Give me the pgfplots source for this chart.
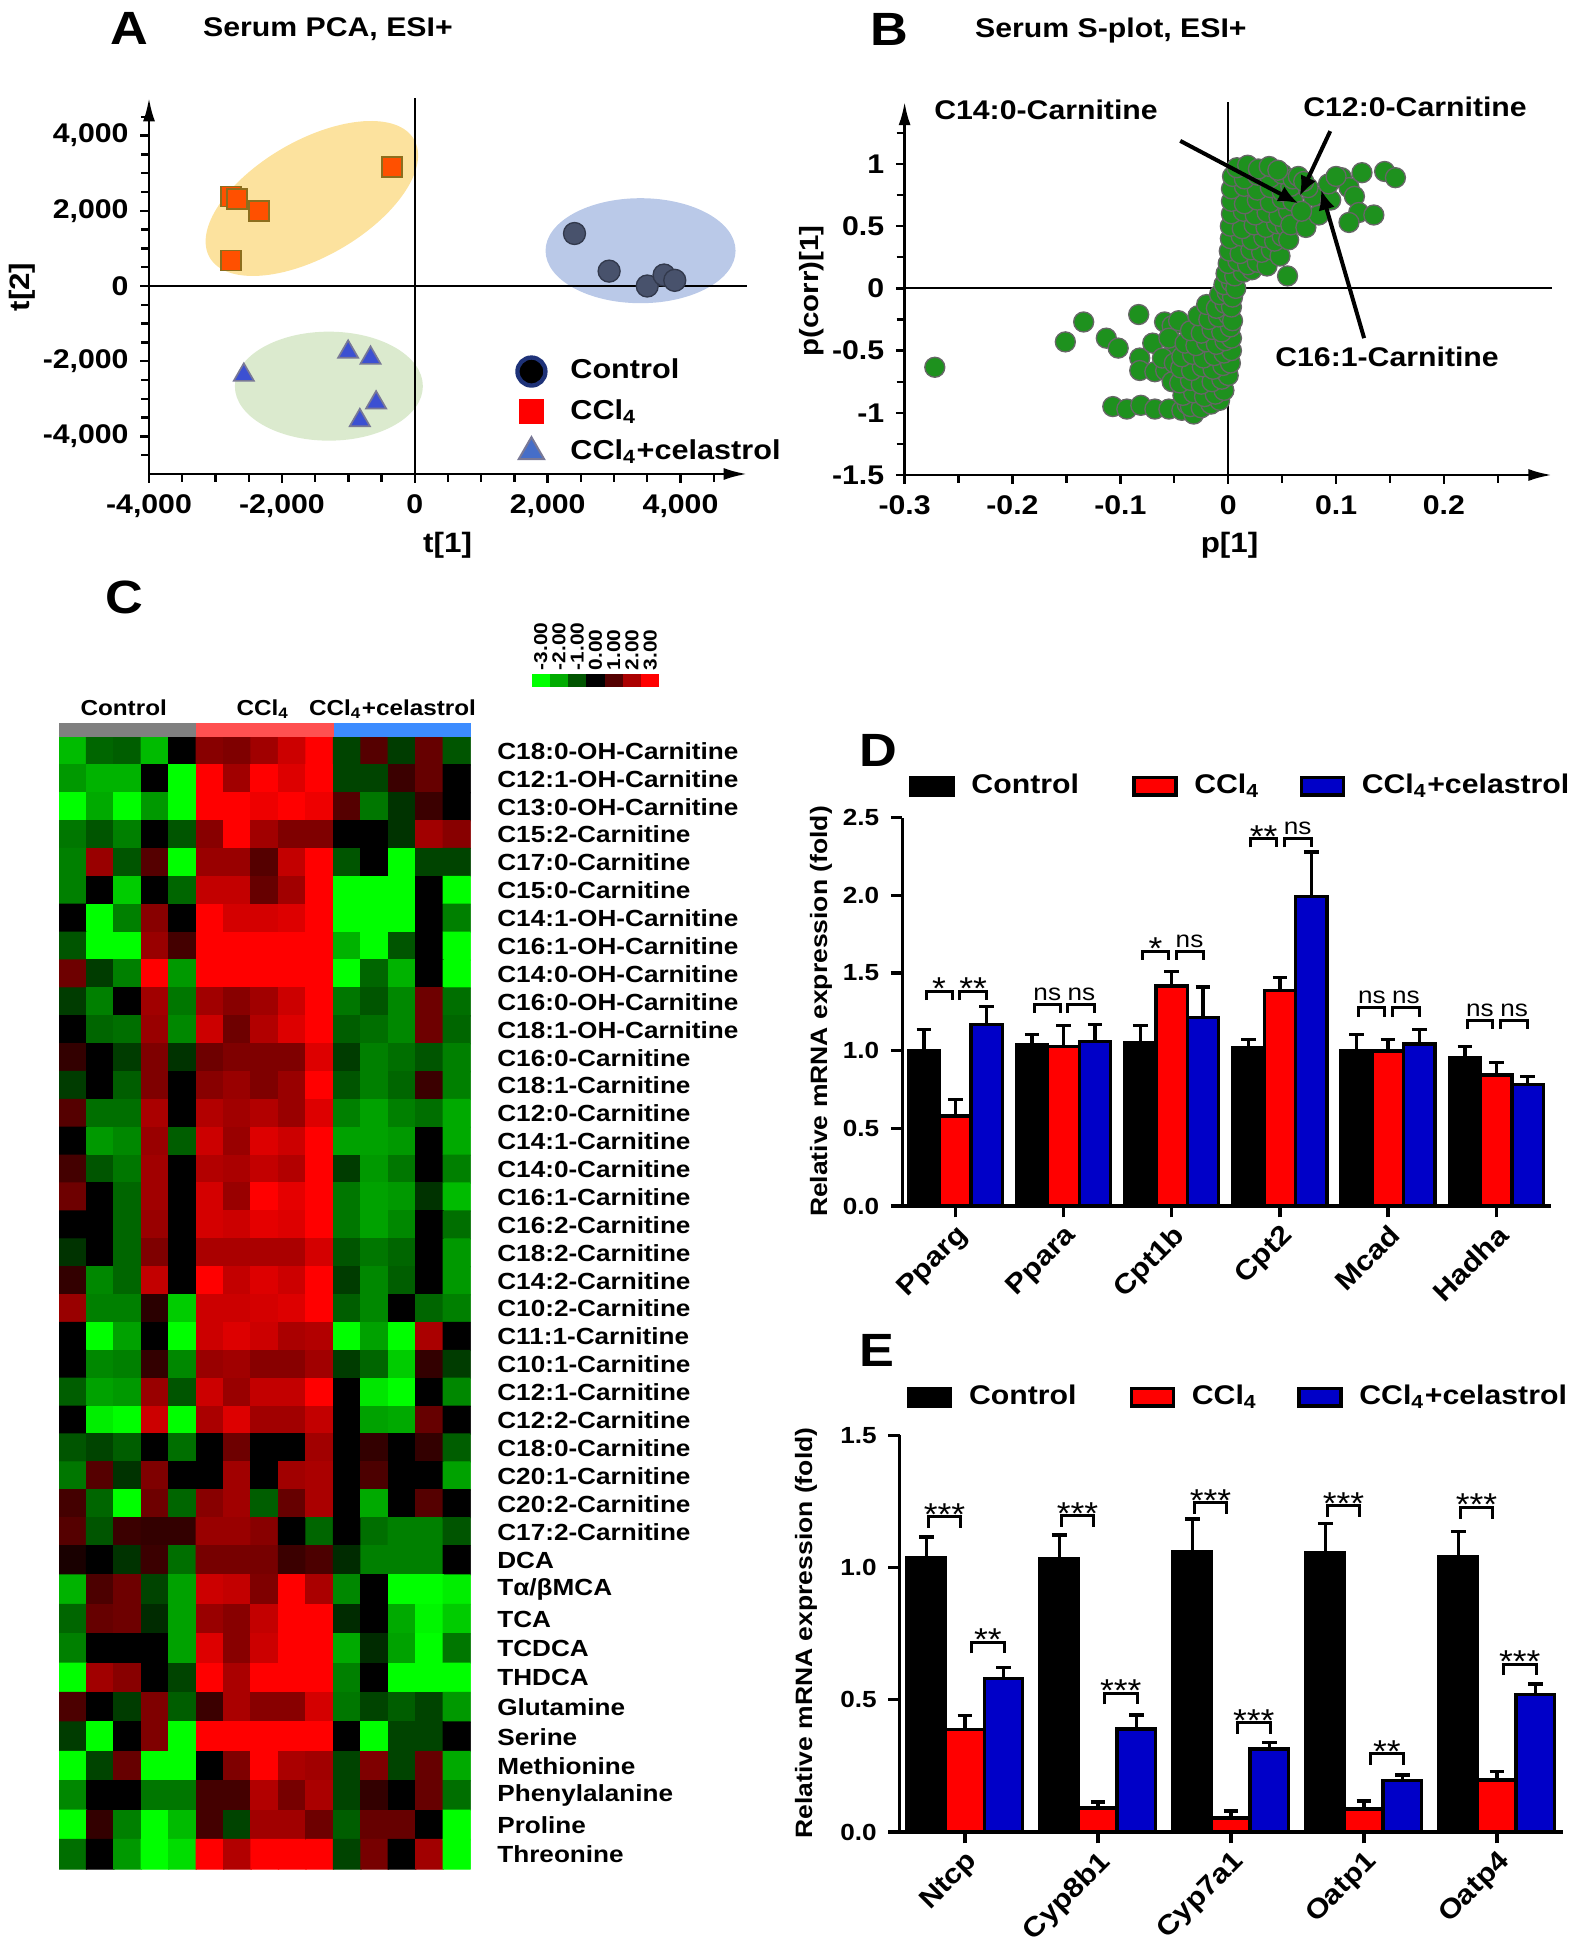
\documentclass[border=0pt]{standalone}
\usepackage{fontspec}
\setmainfont{Liberation Sans}[FakeStretch=1.12]
\usepackage{pgfplots}
\pgfplotsset{compat=1.18}
\usepackage{pgfplotstable}
\usetikzlibrary{arrows.meta}
\newcommand\fs[1]{\fontsize{#1}{#1}\selectfont\bfseries}
\newcommand\fr[1]{\fontsize{#1}{#1}\selectfont}
\definecolor{ctrlfill}{RGB}{72,82,108}
\definecolor{sqfill}{RGB}{255,80,0}
\definecolor{sqedge}{RGB}{140,110,30}
\definecolor{trifill}{RGB}{60,80,210}
\definecolor{triedge}{RGB}{120,120,150}
\definecolor{navy}{RGB}{30,50,120}
\definecolor{triL}{RGB}{70,110,200}
\definecolor{ellY}{RGB}{252,226,158}
\definecolor{ellB}{RGB}{186,201,232}
\definecolor{ellG}{RGB}{219,234,206}
\definecolor{spl}{RGB}{30,145,30}
\definecolor{barR}{RGB}{255,0,0}
\definecolor{barB}{RGB}{0,0,200}
\definecolor{grpK}{RGB}{128,128,128}
\definecolor{grpR}{RGB}{255,80,80}
\definecolor{grpB}{RGB}{60,140,255}

\pgfplotstableread[row sep=\\, header=false]{
-2.2\\-1.2\\-1.1\\-2.2\\0\\1.6\\1.5\\1.9\\2.4\\3\\-0.8\\1.0\\-0.7\\1.2\\-1.0\\
-1.8\\-2.1\\-2.1\\0\\-3\\3\\1.9\\3\\2.6\\3\\-0.8\\-0.8\\0.7\\1.2\\0\\
-3\\-2\\-3\\-1.8\\-3\\3\\3\\2.8\\3\\2.8\\1.0\\-1.4\\-0.6\\0.7\\0\\
-1.4\\-1.0\\-1.5\\0\\-1.0\\1.6\\3\\1.9\\1.5\\1.5\\0\\0\\-0.6\\1.9\\1.6\\
-1.5\\1.8\\-1.0\\1.0\\-3\\1.8\\1.8\\1.0\\2.3\\3\\-1.0\\0\\-3\\-0.8\\-0.8\\
-1.5\\0\\-2.4\\0\\-1.2\\2.3\\2.3\\1.2\\1.9\\3\\-3\\-3\\-3\\0\\-3\\
0\\-3\\-1.5\\1.6\\0\\3\\2.5\\2.5\\2.6\\3\\-3\\-3\\-3\\0\\-1.5\\
-1.0\\-3\\-3\\1.8\\0.8\\3\\3\\3\\3\\3\\-2.1\\-3\\-1.0\\0\\-3\\
1.3\\-0.7\\-1.5\\3\\-1.8\\3\\3\\3\\3\\3\\-3\\-1.2\\-2.1\\0\\-3\\
-0.7\\-1.5\\0\\1.9\\-1.4\\1.9\\1.6\\1.9\\2.4\\3\\-1.4\\-1.0\\-1.6\\1.3\\-1.3\\
0\\-1.2\\-1.3\\1.8\\-1.6\\2.4\\1.3\\2.1\\2.6\\3\\-1.1\\-1.3\\-1.6\\1.3\\-1.2\\
0.6\\0\\-0.7\\1.5\\-0.6\\1.3\\1.5\\1.5\\1.5\\2.6\\-0.7\\-1.5\\-1.3\\-1.0\\-1.5\\
-0.7\\0\\-1.1\\1.5\\0\\1.6\\1.8\\1.5\\1.8\\3\\-1.0\\-1.5\\-1.2\\0.7\\-1.5\\
1.0\\-1.3\\-1.3\\2.0\\0\\2.1\\1.9\\2.1\\1.8\\2.6\\-1.5\\-1.9\\-1.5\\-1.3\\-2.0\\
0\\-1.8\\-1.6\\1.8\\-1.1\\2.4\\1.8\\2.6\\2.4\\3\\-1.9\\-1.9\\-1.8\\0\\-2.0\\
0.8\\-1.0\\-1.4\\1.9\\0\\2.1\\2.0\\2.3\\2.1\\3\\-0.7\\-1.8\\-1.4\\0\\-1.5\\
1.3\\0\\-1.2\\1.9\\0\\2.5\\1.8\\3\\2.7\\3\\-1.4\\-1.9\\-1.8\\-0.6\\-2.2\\
0\\0\\-1.2\\1.8\\0\\2.5\\2.4\\2.7\\2.6\\3\\-1.4\\-1.9\\-1.6\\0\\-1.3\\
-0.6\\0\\-1.2\\1.5\\0\\2.0\\2.0\\2.0\\2.0\\2.5\\-1.0\\-1.4\\-1.2\\0\\-1.8\\
0.6\\-1.6\\-1.2\\2.3\\0\\3\\2.3\\2.6\\2.4\\3\\-0.7\\-1.6\\-1.1\\0\\-1.8\\
1.8\\-1.5\\-1.5\\0.5\\-2.4\\2.4\\2.4\\2.5\\2.6\\3\\-1.1\\-1.6\\0\\-1.2\\-1.5\\
0\\-3\\-1.9\\0\\-3\\2.4\\2.6\\2.4\\2.0\\2.1\\-3\\-1.9\\-3\\2.0\\0\\
0\\-1.6\\-1.5\\0.6\\-1.6\\1.8\\1.9\\1.6\\1.6\\1.9\\-0.7\\-1.2\\-2.4\\0.6\\-0.7\\
-1.1\\-1.9\\-1.8\\1.8\\-1.0\\2.4\\1.8\\2.3\\2.3\\3\\0\\-2.7\\-3\\0\\-1.6\\
0\\-2.8\\-3\\2.4\\-3\\2.0\\2.6\\1.9\\1.9\\2.3\\0\\-1.9\\-2.0\\1.2\\0\\
-1.0\\-0.8\\-1.1\\0\\-1.3\\0\\1.3\\0\\0\\1.9\\0\\0.6\\0\\0.6\\-1.1\\
-1.4\\1.0\\-0.6\\1.5\\0\\0\\1.9\\0\\1.9\\2.0\\0\\0.9\\0\\0\\-1.9\\
0.8\\-1.2\\-3\\1.3\\-1.2\\1.6\\1.9\\-1.1\\1.2\\2.0\\0\\-2.0\\0\\1.0\\0\\
1.0\\-1.0\\0.7\\0.6\\0.6\\1.8\\1.8\\1.6\\0\\-1.2\\0\\-1.3\\-1.5\\-1.5\\-1.0\\
}\heatA

\pgfplotstableread[row sep=\\, header=false]{
0.3\\0\\-0.6\\0.7\\-1.3\\1.4\\1.4\\1.4\\0.7\\0.9\\-0.5\\-1.5\\-1.5\\-1.5\\0\\
-2.1\\0.9\\1.3\\-0.8\\-1.9\\2.4\\2.3\\1.5\\3\\2.0\\-1.6\\0\\-3\\-3\\-2.8\\
-1.2\\1.2\\1.3\\-0.5\\-1.9\\1.8\\1.6\\2.3\\3\\3\\-0.5\\0\\-2.0\\-2.9\\-2.4\\
-1.5\\0\\0\\0\\-1.9\\2.6\\1.6\\2.4\\3\\3\\-2.0\\-0.5\\-1.9\\-3\\-1.4\\
-3\\1.9\\1.6\\0\\-0.8\\3\\2.0\\3\\3\\3\\-1.5\\0\\-3\\-3\\-3\\
0.9\\0\\-0.7\\1.5\\-1.1\\0.7\\2.0\\1.6\\1.6\\2.5\\-1.4\\-0.8\\-1.1\\-0.8\\-1.8\\
-0.7\\-3\\0\\1.5\\-3\\3\\3\\3\\3\\3\\0\\-3\\-0.8\\-0.8\\0\\
-3\\-0.8\\1.2\\-3\\-3\\0\\1.5\\3\\2.0\\1.9\\-0.8\\1.5\\-0.8\\1.2\\-2.0\\
-1.6\\0\\0\\-1.4\\-1.4\\0.8\\0.8\\2.1\\1.4\\2.0\\-0.8\\0.6\\0\\1.2\\-1.3\\
-3\\0.6\\-1.5\\-3\\-2.2\\0.8\\-0.8\\1.9\\1.9\\1.3\\-1.1\\1.2\\1.2\\0\\-3\\
-1.3\\0\\-1.8\\-3\\-2.6\\3\\2.1\\3\\3\\3\\-0.8\\1.4\\0\\1.9\\-3\\
}\heatB

\newcommand\brk[4]{\draw[line width=0.9pt] ([yshift=-#4]axis cs:#1,#3) -- (axis cs:#1,#3) -- (axis cs:#2,#3) -- ([yshift=-#4]axis cs:#2,#3);}

\pgfplotsset{
  barplot/.style={
    scale only axis, axis x line*=bottom, axis y line*=left,
    axis line style={line width=1pt}, ymin=0,
    tick align=outside, major tick length=3.4pt, tick style={line width=1pt, black},
    xticklabel style={rotate=45, anchor=north east, font=\fs{8.2}, inner sep=1pt},
    yticklabel style={font=\fs{7}},
    clip=false, legend columns=3,
    legend style={at={(axis description cs:0.01,1)}, anchor=south west, draw=none, fill=none,
      inner sep=0pt, font=\fs{8.1},
      /tikz/every odd column/.append style={column sep=3pt},
      /tikz/column 2/.append style={column sep=14pt},
      /tikz/column 4/.append style={column sep=10pt}},
    legend image code/.code={\draw[#1,/tikz/.cd,line width=1pt] (0pt,-2.6pt) rectangle (12.6pt,2.6pt);},
  },
  eb/.style={ybar, bar width=0.29, bar shift=0, draw=black, line width=1pt,
    error bars/.cd, y dir=plus, y explicit,
    error bar style={line width=1pt, black},
    error mark options={rotate=90, mark size=2.2pt, line width=1pt, black}},
  scat/.style={scale only axis, axis lines=left,
    axis line style={line width=0.8pt, -{Latex[length=7pt,width=3.6pt]}},
    tick align=outside, major tick length=2.6pt, minor tick length=2.4pt,
    tick style={line width=0.7pt, black}, ticklabel style={font=\fs{8.1}}, clip=false},
  heat/.style={scale only axis, width=123.51pt, xmin=-0.5, xmax=14.5, y dir=reverse, enlargelimits=false,
    axis line style={draw=none}, major tick length=0pt, xtick=\empty, yticklabel pos=right,
    yticklabel style={anchor=west, font=\fs{7}, inner sep=0.5pt, xshift=7.3pt},
    colormap={rg}{rgb255=(0,255,0) rgb255=(0,0,0) rgb255=(255,0,0)},
    point meta min=-3, point meta max=3},
}

\begin{document}
\begin{tikzpicture}
\useasboundingbox (0pt,0pt) rectangle (476.7pt,-585pt);

% ---------------- A ----------------
\begin{axis}[scat, at={(44.7pt,-142.2pt)}, anchor=south west, width=179.4pt, height=112.8pt,
  xmin=-4000, xmax=5000, ymin=-5000, ymax=5000,
  xtick={-4000,-2000,0,2000,4000}, xticklabels={{-4,000},{-2,000},0,{2,000},{4,000}},
  ytick={-4000,-2000,0,2000,4000}, yticklabels={{-4,000},{-2,000},0,{2,000},{4,000}},
  minor xtick={-3500,-3000,...,4500}, minor ytick={-4500,-4000,...,4500},
  legend style={at={(axis description cs:0.615,0.325)}, anchor=north west, draw=none, fill=none,
    inner sep=0pt, font=\fs{8.2}, row sep=0.6pt, cells={anchor=west},
    /tikz/every odd column/.append style={column sep=5.5pt}}]
\fill[ellY] (axis cs:-1549,2328) ellipse [x radius=35.4pt, y radius=17.4pt, rotate=30];
\fill[ellB] (axis cs:3398,939) ellipse [x radius=28.5pt, y radius=15.75pt];
\fill[ellG] (axis cs:-1293,-2664) ellipse [x radius=28.2pt, y radius=16.35pt];
\draw[line width=0.6pt] (axis cs:-4000,0) -- (axis cs:5000,0);
\draw[line width=0.6pt] (axis cs:0,-5000) -- (axis cs:0,5000);
\addlegendimage{only marks, mark=*, mark size=4.2pt, mark options={fill=black, draw=navy, line width=1.3pt}}
\addlegendentry{Control}
\addlegendimage{only marks, mark=square*, mark size=3.6pt, mark options={fill=red, draw=red}}
\addlegendentry{CCl\textsubscript{4}}
\addlegendimage{only marks, mark=triangle*, mark size=4.4pt, mark options={fill=triL, draw=triedge, line width=0.6pt}}
\addlegendentry{CCl\textsubscript{4}+celastrol}
\addplot[forget plot, only marks, mark=*, mark size=3.3pt, mark options={fill=ctrlfill, draw=ctrlfill!70!black, line width=0.4pt}]
  coordinates {(2404,1396) (2925,396) (3499,0) (3752,292) (3913,151)};
\addplot[forget plot, only marks, mark=square*, mark size=3pt, mark options={fill=sqfill, draw=sqedge, line width=0.5pt}]
  coordinates {(-2764,2377) (-2672,2320) (-2343,1990) (-2764,679) (-345,3170)};
\addplot[forget plot, only marks, mark=triangle*, mark size=3.5pt, mark options={fill=trifill, draw=triedge, line width=0.5pt}]
  coordinates {(-2573,-2368) (-1003,-1755) (-666,-1915) (-582,-3104) (-827,-3575)};
\end{axis}

% ---------------- B ----------------
\begin{axis}[scat, at={(271.38pt,-142.5pt)}, anchor=south west, width=194.16pt, height=111.96pt,
  xmin=-0.3, xmax=0.3, ymin=-1.5, ymax=1.5,
  xtick={-0.3,-0.2,-0.1,0,0.1,0.2}, xticklabels={-0.3,-0.2,-0.1,0,0.1,0.2},
  ytick={-1.5,-1,-0.5,0,0.5,1}, yticklabels={-1.5,-1,-0.5,0,0.5,1},
  minor xtick={-0.25,-0.15,-0.05,0.05,0.15,0.25}, minor ytick={-1.25,-0.75,-0.25,0.25,0.75,1.25}]
\draw[line width=0.6pt] (axis cs:-0.3,0) -- (axis cs:0.3,0);
\draw[line width=0.6pt] (axis cs:0,-1.5) -- (axis cs:0,1.5);
\addplot[only marks, mark=*, mark size=3pt, mark options={fill=spl, draw=black!60, line width=0.4pt}] coordinates {
(-0.272,-0.634) (-0.151,-0.43) (-0.134,-0.27) (-0.113,-0.40) (-0.102,-0.48) (-0.083,-0.21)
(-0.082,-0.56) (-0.082,-0.66) (-0.070,-0.44) (-0.068,-0.67) (-0.058,-0.66) (-0.059,-0.27)
(-0.052,-0.30) (-0.046,-0.26) (-0.048,-0.47) (-0.061,-0.56) (-0.055,-0.40) (-0.050,-0.60) (-0.052,-0.75)
(-0.107,-0.95) (-0.094,-0.97) (-0.081,-0.94) (-0.068,-0.97) (-0.055,-0.97) (-0.043,-0.98) (-0.032,-1.01) (-0.038,-0.93)
(-0.035,-0.95) (-0.025,-0.96) (-0.016,-0.93) (-0.008,-0.90)
(-0.042,-0.86) (-0.032,-0.84) (-0.022,-0.87) (-0.012,-0.85) (-0.004,-0.82)
(-0.045,-0.76) (-0.035,-0.74) (-0.025,-0.77) (-0.015,-0.75) (-0.006,-0.73) (0.000,-0.70)
(-0.044,-0.64) (-0.034,-0.66) (-0.024,-0.63) (-0.014,-0.65) (-0.005,-0.62) (0.002,-0.60)
(-0.043,-0.55) (-0.033,-0.53) (-0.023,-0.56) (-0.013,-0.54) (-0.004,-0.52) (0.003,-0.50)
(-0.040,-0.44) (-0.030,-0.46) (-0.020,-0.43) (-0.011,-0.45) (-0.003,-0.42) (0.003,-0.40)
(-0.035,-0.34) (-0.025,-0.36) (-0.015,-0.33) (-0.006,-0.35) (0.002,-0.31)
(-0.028,-0.22) (-0.018,-0.25) (-0.009,-0.23) (0.000,-0.21) (0.004,-0.26)
(-0.020,-0.13) (-0.011,-0.16) (-0.003,-0.12) (0.003,-0.15)
(-0.008,-0.05) (-0.001,-0.03) (0.004,-0.07) (-0.004,0.03) (0.003,0.05) (0.007,0.0)
(-0.002,0.12) (0.006,0.10) (0.014,0.13) (0.022,0.15)
(0.000,0.20) (0.009,0.22) (0.018,0.19) (0.027,0.21) (0.036,0.18)
(0.001,0.30) (0.011,0.28) (0.021,0.31) (0.031,0.29) (0.040,0.31) (0.048,0.26)
(0.002,0.40) (0.012,0.42) (0.022,0.39) (0.033,0.41) (0.043,0.38) (0.050,0.42)
(0.002,0.50) (0.013,0.48) (0.024,0.51) (0.035,0.49) (0.045,0.52) (0.053,0.50)
(0.003,0.60) (0.014,0.62) (0.025,0.59) (0.036,0.61) (0.047,0.58) (0.056,0.62)
(0.003,0.70) (0.015,0.68) (0.027,0.71) (0.039,0.69) (0.050,0.72) (0.060,0.70)
(0.003,0.80) (0.015,0.82) (0.027,0.79) (0.039,0.81) (0.050,0.78) (0.058,0.82)
(0.004,0.90) (0.015,0.88) (0.027,0.91) (0.039,0.89) (0.050,0.92) (0.060,0.88)
(0.008,0.97) (0.018,0.99) (0.028,0.96) (0.038,0.98) (0.046,0.95)
(0.055,0.10) (0.056,0.39) (0.058,0.51) (0.072,0.49) (0.084,0.59) (0.079,0.74)
(0.095,0.71) (0.093,0.84) (0.105,0.89) (0.112,0.81) (0.117,0.74) (0.124,0.93) (0.121,0.61)
(0.112,0.53) (0.135,0.59) (0.145,0.94) (0.155,0.89) (0.100,0.90) (0.065,0.90) (0.074,0.81)
(0.068,0.62) (0.070,0.86)
};
\coordinate (a1s) at (axis cs:-0.0445,1.186); \coordinate (a1e) at (axis cs:0.065,0.684);
\coordinate (a2s) at (axis cs:0.0946,1.264);  \coordinate (a2e) at (axis cs:0.0663,0.742);
\coordinate (a3s) at (axis cs:0.126,-0.40);   \coordinate (a3e) at (axis cs:0.0861,0.793);
\end{axis}
\draw[line width=1.2pt, -{Latex[length=6pt,width=5pt]}] (a1s) -- (a1e);
\draw[line width=1.2pt, -{Latex[length=6pt,width=5pt]}] (a2s) -- (a2e);
\draw[line width=1.2pt, -{Latex[length=6pt,width=5pt]}] (a3s) -- (a3e);

% ---------------- C (heatmap) ----------------
\begin{axis}[heat, at={(17.7pt,-463.68pt)}, anchor=south west, height=242.58pt,
  ymin=-0.5, ymax=28.5, ytick={0,...,28},
  yticklabels={C18:0-OH-Carnitine,C12:1-OH-Carnitine,C13:0-OH-Carnitine,C15:2-Carnitine,C17:0-Carnitine,
    C15:0-Carnitine,C14:1-OH-Carnitine,C16:1-OH-Carnitine,C14:0-OH-Carnitine,C16:0-OH-Carnitine,
    C18:1-OH-Carnitine,C16:0-Carnitine,C18:1-Carnitine,C12:0-Carnitine,C14:1-Carnitine,
    C14:0-Carnitine,C16:1-Carnitine,C16:2-Carnitine,C18:2-Carnitine,C14:2-Carnitine,
    C10:2-Carnitine,C11:1-Carnitine,C10:1-Carnitine,C12:1-Carnitine,C12:2-Carnitine,
    C18:0-Carnitine,C20:1-Carnitine,C20:2-Carnitine,C17:2-Carnitine}]
\addplot[matrix plot*, mesh/cols=15, point meta=explicit]
  table[x index=0, y index=0, x expr={\coordindex-15*floor((\coordindex+0.5)/15)},
        y expr={floor((\coordindex+0.5)/15)}, meta index=0] {\heatA};
\end{axis}
\begin{axis}[heat, at={(17.7pt,-560.7pt)}, anchor=south west, height=97.02pt,
  ymin=-0.5, ymax=10.5, ytick={0,...,10},
  yticklabels={DCA,Tα/βMCA,TCA,TCDCA,THDCA,Glutamine,Serine,Methionine,Phenylalanine,Proline,Threonine}]
\addplot[matrix plot*, mesh/cols=15, point meta=explicit]
  table[x index=0, y index=0, x expr={\coordindex-15*floor((\coordindex+0.5)/15)},
        y expr={floor((\coordindex+0.5)/15)}, meta index=0] {\heatB};
\end{axis}

% ---------------- D ----------------
\begin{axis}[barplot, at={(270.69pt,-361.8pt)}, anchor=south west, width=194.73pt, height=116.55pt,
  xmin=-0.49, xmax=5.51, ymax=2.5,
  xtick={0,...,5}, xticklabels={Pparg,Ppara,Cpt1b,Cpt2,Mcad,Hadha},
  ytick={0,0.5,1,1.5,2,2.5}, yticklabels={0.0,0.5,1.0,1.5,2.0,2.5},
  legend style={yshift=3.5pt}]
\addplot[fill=black, eb] coordinates {
 (-0.29,1.002) +- (0,0.136) (0.71,1.036) +- (0,0.068) (1.71,1.050) +- (0,0.110)
 (2.71,1.020) +- (0,0.052) (3.71,1.002) +- (0,0.102) (4.71,0.953) +- (0,0.074)};
\addplot[fill=barR, eb] coordinates {
 (0,0.580) +- (0,0.106) (1,1.025) +- (0,0.135) (2,1.415) +- (0,0.095)
 (3,1.386) +- (0,0.086) (4,0.998) +- (0,0.074) (5,0.844) +- (0,0.079)};
\addplot[fill=barB, eb] coordinates {
 (0.29,1.167) +- (0,0.117) (1.29,1.059) +- (0,0.111) (2.29,1.212) +- (0,0.198)
 (3.29,1.991) +- (0,0.287) (4.29,1.043) +- (0,0.095) (5.29,0.783) +- (0,0.050)};
\legend{Control, CCl\textsubscript{4}, CCl\textsubscript{4}+celastrol}
\brk{-0.27}{-0.03}{1.381}{2.6pt} \brk{0.04}{0.29}{1.381}{2.6pt}
\brk{0.73}{0.97}{1.298}{2.6pt} \brk{1.04}{1.29}{1.298}{2.6pt}
\brk{1.73}{1.97}{1.641}{2.6pt} \brk{2.04}{2.29}{1.641}{2.6pt}
\brk{2.73}{2.97}{2.363}{2.6pt} \brk{3.04}{3.29}{2.363}{2.6pt}
\brk{3.73}{3.97}{1.275}{2.6pt} \brk{4.04}{4.29}{1.275}{2.6pt}
\brk{4.73}{4.97}{1.194}{2.6pt} \brk{5.04}{5.29}{1.194}{2.6pt}
\node[anchor=base, font=\fr{9.5}, yshift=-2.5pt] at (axis cs:-0.15,1.381) {*};
\node[anchor=base, font=\fr{9.5}, yshift=-2.5pt] at (axis cs:0.165,1.381) {**};
\node[anchor=base, font=\fr{7}, yshift=1.2pt] at (axis cs:0.85,1.298) {ns};
\node[anchor=base, font=\fr{7}, yshift=1.2pt] at (axis cs:1.165,1.298) {ns};
\node[anchor=base, font=\fr{9.5}, yshift=-2.5pt] at (axis cs:1.85,1.641) {*};
\node[anchor=base, font=\fr{7}, yshift=1.2pt] at (axis cs:2.165,1.641) {ns};
\node[anchor=base, font=\fr{9.5}, yshift=-2.5pt] at (axis cs:2.85,2.363) {**};
\node[anchor=base, font=\fr{7}, yshift=1.2pt] at (axis cs:3.165,2.363) {ns};
\node[anchor=base, font=\fr{7}, yshift=1.2pt] at (axis cs:3.85,1.275) {ns};
\node[anchor=base, font=\fr{7}, yshift=1.2pt] at (axis cs:4.165,1.275) {ns};
\node[anchor=base, font=\fr{7}, yshift=1.2pt] at (axis cs:4.85,1.194) {ns};
\node[anchor=base, font=\fr{7}, yshift=1.2pt] at (axis cs:5.165,1.194) {ns};
\end{axis}

% ---------------- E ----------------
\begin{axis}[barplot, at={(269.91pt,-549.6pt)}, anchor=south west, width=199.08pt, height=119.01pt,
  xmin=-0.49, xmax=4.5, ymax=1.5,
  xtick={0,...,4}, xticklabels={Ntcp,Cyp8b1,Cyp7a1,Oatp1,Oatp4},
  ytick={0,0.5,1,1.5}, yticklabels={0.0,0.5,1.0,1.5},
  legend style={yshift=5.5pt}]
\addplot[fill=black, eb] coordinates {
 (-0.29,1.037) +- (0,0.079) (0.71,1.035) +- (0,0.088) (1.71,1.060) +- (0,0.124)
 (2.71,1.055) +- (0,0.111) (3.71,1.043) +- (0,0.093)};
\addplot[fill=barR, eb] coordinates {
 (0,0.387) +- (0,0.053) (1,0.091) +- (0,0.023) (2,0.053) +- (0,0.026)
 (3,0.087) +- (0,0.030) (4,0.197) +- (0,0.031)};
\addplot[fill=barB, eb] coordinates {
 (0.29,0.580) +- (0,0.042) (1.29,0.390) +- (0,0.053) (2.29,0.314) +- (0,0.025)
 (3.29,0.194) +- (0,0.022) (4.29,0.519) +- (0,0.041)};
\legend{Control, CCl\textsubscript{4}, CCl\textsubscript{4}+celastrol}
\brk{-0.27}{-0.035}{1.192}{3.3pt} \brk{0.05}{0.295}{0.717}{3.3pt}
\brk{0.73}{0.965}{1.196}{3.3pt} \brk{1.05}{1.295}{0.524}{3.3pt}
\brk{1.73}{1.965}{1.245}{3.3pt} \brk{2.05}{2.295}{0.413}{3.3pt}
\brk{2.73}{2.965}{1.234}{3.3pt} \brk{3.05}{3.295}{0.296}{3.3pt}
\brk{3.73}{3.965}{1.227}{3.3pt} \brk{4.05}{4.295}{0.635}{3.3pt}
\node[anchor=base, font=\fr{9.5}, yshift=-2.5pt] at (axis cs:-0.1525,1.192) {***};
\node[anchor=base, font=\fr{9.5}, yshift=-2.5pt] at (axis cs:0.1725,0.717) {**};
\node[anchor=base, font=\fr{9.5}, yshift=-2.5pt] at (axis cs:0.8475,1.196) {***};
\node[anchor=base, font=\fr{9.5}, yshift=-2.5pt] at (axis cs:1.1725,0.524) {***};
\node[anchor=base, font=\fr{9.5}, yshift=-2.5pt] at (axis cs:1.8475,1.245) {***};
\node[anchor=base, font=\fr{9.5}, yshift=-2.5pt] at (axis cs:2.1725,0.413) {***};
\node[anchor=base, font=\fr{9.5}, yshift=-2.5pt] at (axis cs:2.8475,1.234) {***};
\node[anchor=base, font=\fr{9.5}, yshift=-2.5pt] at (axis cs:3.1725,0.296) {**};
\node[anchor=base, font=\fr{9.5}, yshift=-2.5pt] at (axis cs:3.8475,1.227) {***};
\node[anchor=base, font=\fr{9.5}, yshift=-2.5pt] at (axis cs:4.1725,0.635) {***};
\end{axis}

% ---------------- texts ----------------
\begin{scope}[x=0.3pt,y=-0.3pt]
\node[font=\fs{14}] at (129,28) {A};
\node[font=\fs{8.1}, anchor=west, inner sep=0pt] at (202.5,29.5) {Serum PCA, ESI+};
\node[font=\fs{14}] at (889,29.5) {B};
\node[font=\fs{8.1}, anchor=west, inner sep=0pt] at (974.5,30.4) {Serum S-plot, ESI+};
\node[font=\fs{8.4}] at (447.6,545) {t[1]};
\node[font=\fs{8.4}, rotate=90] at (22,287) {t[2]};
\node[font=\fs{8.4}] at (1229.5,545) {p[1]};
\node[font=\fs{7.9}, rotate=90] at (811.6,291) {p(corr)[1]};
\node[font=\fs{8.1}] at (1046,110) {C14:0-Carnitine};
\node[font=\fs{8.1}] at (1415,107) {C12:0-Carnitine};
\node[font=\fs{8.1}] at (1387,357) {C16:1-Carnitine};
\node[font=\fs{14}] at (124,597) {C};
\node[font=\fs{6.5}] at (123.7,708) {Control};
\node[font=\fs{6.5}] at (263,709) {CCl\textsubscript{4}};
\node[font=\fs{6.5}] at (392.5,709) {CCl\textsubscript{4}+celastrol};
\fill[grpK] (59,722.7) rectangle (196,737.3);
\fill[grpR] (196,722.7) rectangle (333.7,737.3);
\fill[grpB] (333.7,722.7) rectangle (470.7,737.3);
\fill[green] (531.7,674) rectangle (549.9,687);
\fill[green!67!black] (549.9,674) rectangle (568.1,687);
\fill[green!33!black] (568.1,674) rectangle (586.4,687);
\fill[black] (586.4,674) rectangle (604.6,687);
\fill[red!33!black] (604.6,674) rectangle (622.8,687);
\fill[red!67!black] (622.8,674) rectangle (641.1,687);
\fill[red] (641.1,674) rectangle (659.3,687);
\foreach \xx/\tt in {540.8/-3.00,559/-2.00,577.2/-1.00,595.5/0.00,613.7/1.00,632/2.00,650.2/3.00}
  \node[rotate=90, anchor=west, font=\fs{5.6}, inner sep=0pt] at (\xx,671) {\tt};
\node[font=\fs{14}] at (878,750) {D};
\node[font=\fs{14}] at (877,1350) {E};
\node[font=\fs{7.1}, rotate=90] at (821,1011.5) {Relative mRNA expression (fold)};
\node[font=\fs{7.1}, rotate=90] at (806,1633) {Relative mRNA expression (fold)};
\end{scope}
\end{tikzpicture}
\end{document}
